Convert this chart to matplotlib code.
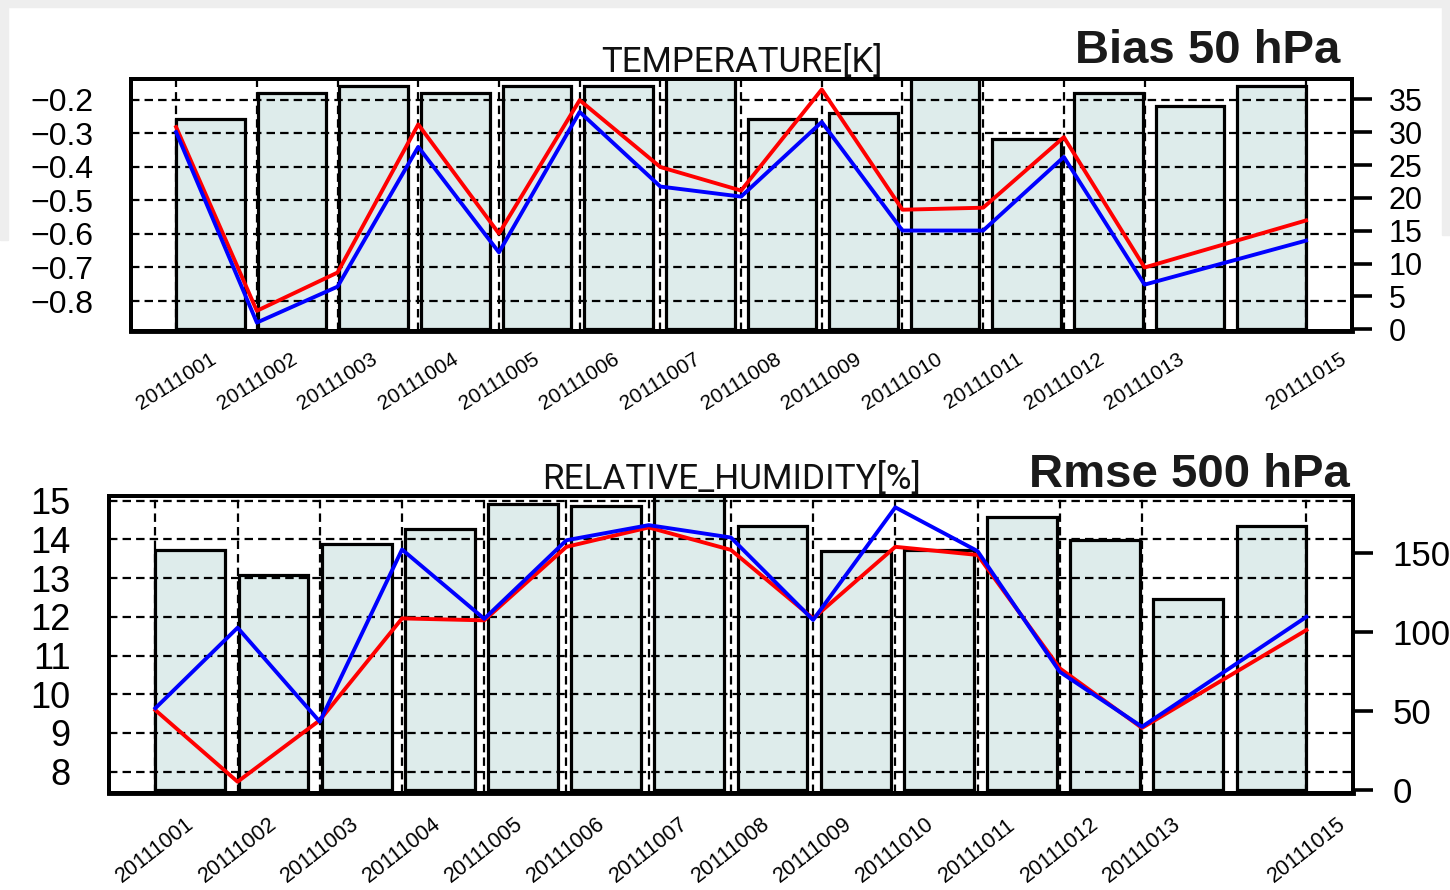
import numpy as np
import matplotlib.pyplot as plt
from matplotlib.patches import Rectangle

# Dates of the verification runs (20111014 is missing)
dates = ['20111001', '20111002', '20111003', '20111004', '20111005',
         '20111006', '20111007', '20111008', '20111009', '20111010',
         '20111011', '20111012', '20111013', '20111015']

# Temperature bias at 50 hPa (left axis) and number of samples (right axis)
temp_red = [-0.282, -0.829, -0.715, -0.274, -0.599, -0.202, -0.401,
            -0.471, -0.170, -0.528, -0.522, -0.312, -0.700, -0.560]
temp_blue = [-0.297, -0.864, -0.757, -0.341, -0.655, -0.237, -0.459,
             -0.489, -0.267, -0.590, -0.590, -0.371, -0.751, -0.620]
temp_count = [32, 36, 37, 36, 37, 37, 40, 32, 33, 40, 29, 36, 34, 37]
temp_left_ticks = [-0.8, -0.7, -0.6, -0.5, -0.4, -0.3, -0.2]
temp_right_ticks = [0, 5, 10, 15, 20, 25, 30, 35]

# Relative humidity rmse at 500 hPa (left axis) and number of samples (right axis)
rh_red = [9.59, 7.74, 9.33, 11.96, 11.91, 13.81, 14.31,
          13.73, 11.96, 13.81, 13.60, 10.67, 9.13, 11.66]
rh_blue = [9.64, 11.72, 9.29, 13.74, 11.95, 13.98, 14.37,
           14.05, 11.92, 14.83, 13.70, 10.58, 9.16, 12.00]
rh_count = [152, 136, 156, 165, 181, 180, 190, 167, 151, 152, 173, 158, 121, 167]
rh_left_ticks = [8, 9, 10, 11, 12, 13, 14, 15]
rh_right_ticks = [0, 50, 100, 150]

# day offset from the first date, used as the x coordinate of the lines
days = np.array([int(d[-2:]) - int(dates[0][-2:]) for d in dates])
bar_w = 0.85
bar_x = np.linspace(0, days[-1] - bar_w, len(dates))

DASH = (0, (3.8, 2.3))


def panel(rect, title, red, blue, count, lticks, rticks, lylim, rylim,
          lsize, rsize, xsize, xrot, xpad, rpad, lpad, tsize):
    ax = fig.add_axes(rect)
    ax2 = ax.twinx()

    # sample counts as bars
    ax.bar(bar_x, count, width=bar_w, align='edge', color='#deeceb',
           edgecolor='black', linewidth=2.3, zorder=1)
    ax.set_ylim(*rylim)
    ax.set_xlim(-0.56, 14.57)
    ax.set_yticks(rticks)
    ax.yaxis.tick_right()
    ax.tick_params(axis='y', direction='out', length=14.5, width=2.6,
                   pad=rpad, labelsize=rsize)
    ax.set_xticks(days)
    ax.set_xticklabels(dates, rotation=xrot, ha='center', va='center',
                       fontsize=xsize)
    ax.tick_params(axis='x', length=0, pad=xpad)
    ax.set_axisbelow(False)
    ax.grid(axis='x', color='black', linestyle=DASH, linewidth=1.6)

    # statistics lines
    ax2.plot(days, red, color='#ff0000', linewidth=2.8)
    ax2.plot(days, blue, color='#0000ff', linewidth=2.8)
    ax2.set_ylim(*lylim)
    ax2.set_yticks(lticks)
    ax2.yaxis.tick_left()
    ax2.tick_params(axis='y', length=0, pad=lpad, labelsize=lsize)
    ax2.grid(axis='y', color='black', linestyle=DASH, linewidth=1.6)

    for a in (ax, ax2):
        for s in a.spines.values():
            s.set_linewidth(2.8)
    ax.spines['bottom'].set_linewidth(3.5)

    ax.set_title(title, fontsize=tsize, pad=5, family=['Roboto', 'Liberation Sans'],
                 color='#111111')
    return ax, ax2


plt.rcParams['font.family'] = ['Liberation Sans', 'DejaVu Sans']

fig = plt.figure(figsize=(14.5, 8.9), dpi=100)
fig.patch.set_facecolor('white')

# grey page border along the top and upper sides
fig.patches.append(Rectangle((0, 1 - 7 / 890), 1, 7 / 890, color='#eeeeee',
                             transform=fig.transFigure, zorder=-1))
fig.patches.append(Rectangle((0, 1 - 240 / 890), 8 / 1450, 240 / 890,
                             color='#eeeeee', transform=fig.transFigure, zorder=-1))
fig.patches.append(Rectangle((1442 / 1450, 1 - 235 / 890), 8 / 1450, 235 / 890,
                             color='#eeeeee', transform=fig.transFigure, zorder=-1))

panel([0.0903, 0.6281, 0.8421, 0.2831], 'TEMPERATURE[K]',
      temp_red, temp_blue, temp_count, temp_left_ticks, temp_right_ticks,
      (-0.889, -0.139), (-0.25, 38.1),
      lsize=23, rsize=22, xsize=15, xrot=32, xpad=36, rpad=12, lpad=27, tsize=25)

panel([0.0754, 0.1086, 0.8579, 0.3344], 'RELATIVE_HUMIDITY[%]',
      rh_red, rh_blue, rh_count, rh_left_ticks, rh_right_ticks,
      (7.44, 15.13), (-2.1, 186.3),
      lsize=26, rsize=25, xsize=15.5, xrot=38, xpad=41, rpad=14, lpad=28, tsize=25.3)

fig.text(1340 / 1450, 1 - 63 / 890, 'Bias 50 hPa', ha='right', va='baseline',
         fontsize=34, fontweight='bold', color='#1a1a1a')
fig.text(1350 / 1450, 1 - 487 / 890, 'Rmse 500 hPa', ha='right', va='baseline',
         fontsize=34, fontweight='bold', color='#1a1a1a')

fig.savefig('out.png', dpi=100)
